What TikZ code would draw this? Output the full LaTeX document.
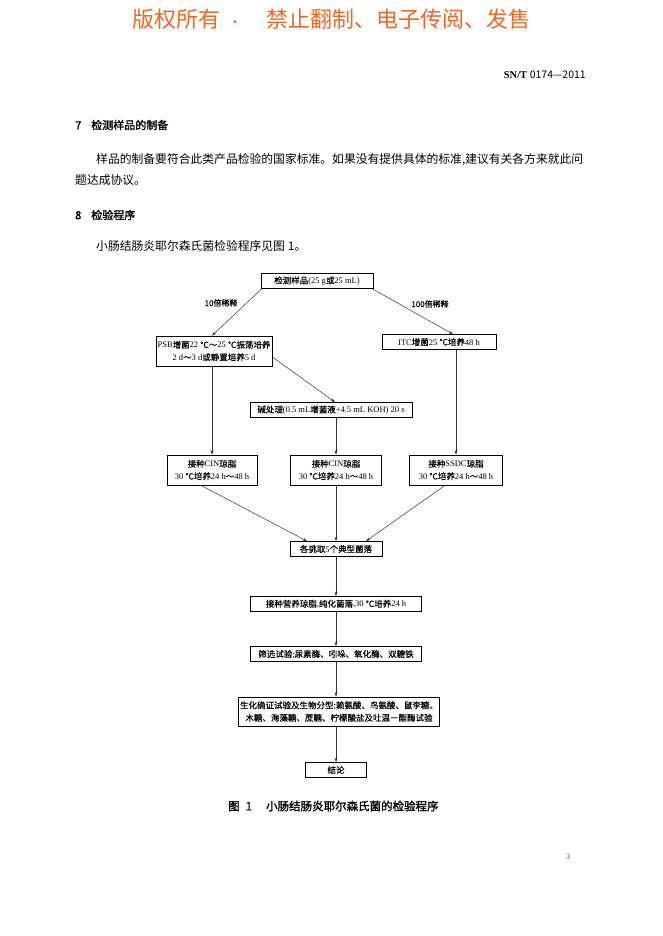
\documentclass[tikz,border=0pt]{standalone}
\usepackage{fontspec}
\setmainfont{Liberation Serif}
\newfontfamily\cjk{Noto Sans CJK SC}
\newfontfamily\cjkb[FakeBold=1.6]{Noto Sans CJK SC}
\newfontfamily\cjkm[FakeBold=0.3]{Noto Sans CJK SC}
\newcommand{\zh}[1]{{\cjkm #1}}
\usetikzlibrary{arrows.meta}
\definecolor{wmorange}{RGB}{236,104,36}

\tikzset{
  box/.style={draw, line width=0.7pt, inner sep=1pt, align=center,
    minimum height=15pt, font=\fontsize{8.5}{12.5}\selectfont},
  tall/.style={minimum height=30pt},
  arr/.style={-{Stealth[length=4.5pt,width=3pt]}, line width=0.5pt, draw=black!80},
  body/.style={anchor=west, inner sep=0pt, font=\cjk\fontsize{11.8}{14}\selectfont},
  head/.style={anchor=west, inner sep=0pt, font=\cjkb\fontsize{11}{14}\selectfont},
}

\begin{document}
\begin{tikzpicture}[x=1pt,y=-1pt]
  \fill[white] (0,0) rectangle (662,936);
  \useasboundingbox (0,0) rectangle (662,936);

  % page header
  \node[anchor=west, inner sep=0pt, text=wmorange, font=\cjk\fontsize{22}{24}\selectfont] (wmA) at (132,19) {版权所有\hspace{8pt}{\fontsize{14}{14}\selectfont ·}};
  \node[anchor=west, inner sep=0pt, text=wmorange, font=\cjk\fontsize{22}{24}\selectfont] (wmB) at (266,19) {禁止翻制、电子传阅、发售};
  \node[anchor=east, inner sep=0pt, font=\fontsize{10.5}{12}\selectfont] (std) at (586,75) {\textbf{SN/T} {\cjk 0174—2011}};

  % text
  \node[head] (h7) at (75,125) {7\hspace{10pt}检测样品的制备};
  \node[body] (p1) at (96,160) {样品的制备要符合此类产品检验的国家标准。如果没有提供具体的标准,建议有关各方来就此问};
  \node[body] (p2) at (75,180) {题达成协议。};
  \node[head] (h8) at (75,215) {8\hspace{10pt}检验程序};
  \node[body] (p3) at (96,246) {小肠结肠炎耶尔森氏菌检验程序见图\hspace{3pt}1。};

  % flow chart
  \node[box, minimum width=112pt] (sample) at (317,281) {\zh{检测样品}(25 g\zh{或}25 mL)};
  \node[box, tall, minimum width=116pt] (psb) at (214,351) {PSB\zh{增菌}22 \zh{℃～}25 \zh{℃振荡培养}\\2 d\zh{～}3 d\zh{或静置培养}5 d};
  \node[box, minimum width=114pt] (itc) at (439,342) {ITC\zh{增菌}25 \zh{℃培养}48 h};
  \node[box, minimum width=162pt] (alkali) at (331,410) {\zh{碱处理}(0.5 mL\zh{增菌液}+4.5 mL KOH) 20 s};
  \node[box, tall, minimum width=90pt] (cinA) at (212,470) {\zh{接种}CIN\zh{琼脂}\\30 \zh{℃培养}24 h\zh{～}48 h};
  \node[box, tall, minimum width=91pt] (cinB) at (336,470) {\zh{接种}CIN\zh{琼脂}\\30 \zh{℃培养}24 h\zh{～}48 h};
  \node[box, tall, minimum width=93pt] (ssdc) at (456,470) {\zh{接种}SSDC\zh{琼脂}\\30 \zh{℃培养}24 h\zh{～}48 h};
  \node[box, minimum width=92pt] (pick) at (336,549) {\zh{各挑取}5\zh{个典型菌落}};
  \node[box, minimum width=171pt] (pure) at (336,604) {\zh{接种营养琼脂},\zh{纯化菌落},30 \zh{℃培养}24 h};
  \node[box, minimum width=171pt] (screen) at (336,654) {\zh{筛选试验:尿素酶、吲哚、氧化酶、双糖铁}};
  \node[box, tall, minimum width=201pt, minimum height=29pt] (confirm) at (339,711.5) {\zh{生化确证试验及生物分型:赖氨酸、鸟氨酸、鼠李糖、}\\\zh{木糖、海藻糖、蔗糖、柠檬酸盐及吐温－酯酶试验}};
  \node[box, minimum width=61pt] (result) at (336,770) {\zh{结论}};

  \node[inner sep=0pt, font=\cjkm\fontsize{8}{10}\selectfont] (tenx) at (221,303) {10倍稀释};
  \node[inner sep=0pt, font=\cjkm\fontsize{8}{10}\selectfont] (hundredx) at (430,304) {100倍稀释};

  \draw[arr] ([xshift=1pt]sample.south west) -- ([xshift=-2pt]psb.north);
  \draw[arr] ([xshift=-1pt]sample.south east) -- ([xshift=14pt]itc.north);
  \draw[arr] ([yshift=-6pt]psb.east) -- ([xshift=4pt]alkali.north);
  \draw[arr] (psb.south -| cinA.north) -- (cinA.north);
  \draw[arr] (itc.south -| ssdc.north) -- (ssdc.north);
  \draw[arr] (alkali.south -| cinB.north) -- (cinB.north);
  \draw[arr] ([xshift=-11pt]cinA.south) -- ([xshift=-29pt]pick.north);
  \draw[arr] (cinB.south) -- (pick.north);
  \draw[arr] ([xshift=-11pt]ssdc.south) -- ([xshift=30pt]pick.north);
  \draw[arr] (pick.south) -- (pure.north);
  \draw[arr] (pure.south) -- (screen.north);
  \draw[arr] (screen.south) -- (screen.south |- confirm.north);
  \draw[arr] (confirm.south -| result.north) -- (result.north);

  % caption and page number
  \node[anchor=west, inner sep=0pt, font=\cjkb\fontsize{11.5}{14}\selectfont] (cap) at (228,806) {图\hspace{6pt}1\hspace{14pt}小肠结肠炎耶尔森氏菌的检验程序};
  \node[inner sep=0pt, text=black!70, font=\fontsize{8}{10}\selectfont] (pg) at (568,857) {3};
\end{tikzpicture}
\end{document}
